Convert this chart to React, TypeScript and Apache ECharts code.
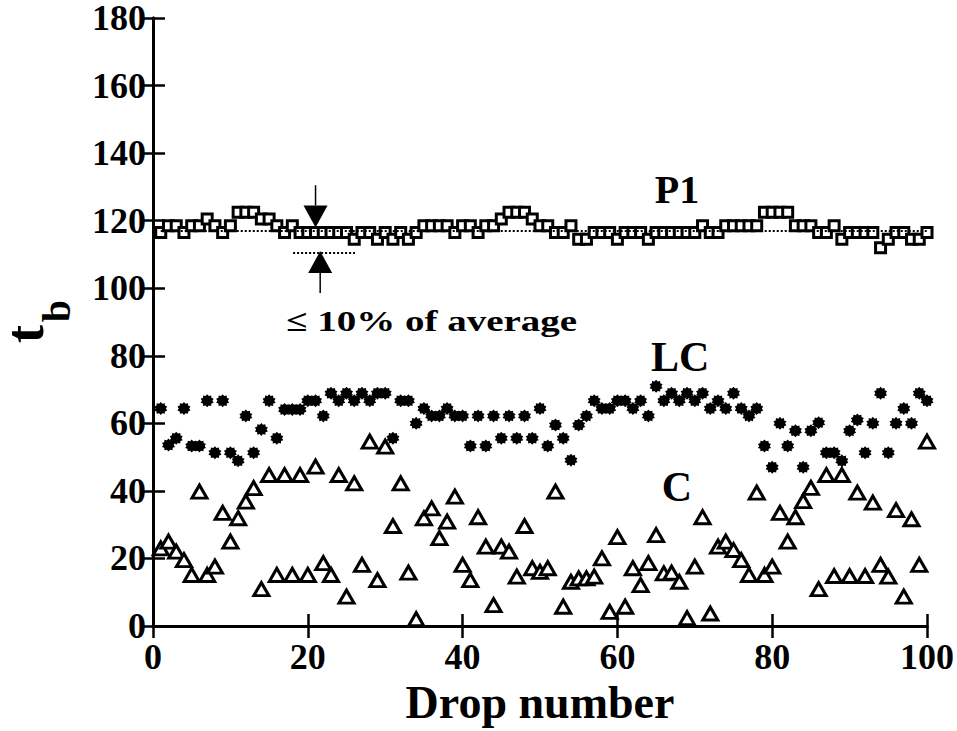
import React, { useEffect, useRef } from "react";
import * as echarts from "echarts";

const xTicks = [0, 20, 40, 60, 80, 100];
const yTicks = [0, 20, 40, 60, 80, 100, 120, 140, 160, 180];

const p1Values = [
  116.5, 118.5, 118.5, 116.5, 118.5, 118.5, 120.5, 118.5, 116.5, 118.5,
  122.5, 122.5, 122.5, 120.5, 120.5, 118.5, 116.5, 118.5, 116.5, 116.5,
  116.5, 116.5, 116.5, 116.5, 116.5, 114.5, 116.5, 116.5, 114.5, 116.5,
  114.5, 116.5, 114.5, 116.5, 118.5, 118.5, 118.5, 118.5, 116.5, 118.5,
  118.5, 116.5, 118.5, 118.5, 120.5, 122.5, 122.5, 122.5, 120.5, 118.5,
  118.5, 116.5, 116.5, 118.5, 114.5, 114.5, 116.5, 116.5, 116.5, 114.5,
  116.5, 116.5, 116.5, 114.5, 116.5, 116.5, 116.5, 116.5, 116.5, 116.5,
  118.5, 116.5, 116.5, 118.5, 118.5, 118.5, 118.5, 118.5, 122.5, 122.5,
  122.5, 122.5, 118.5, 118.5, 118.5, 116.5, 116.5, 118.5, 114.5, 116.5,
  116.5, 116.5, 116.5, 112, 114.5, 116.5, 116.5, 114.5, 114.5, 116.5,
];

const lcValues = [
  64.4, 53.6, 55.6, 64.4, 53.3, 53.3, 66.7, 51.3, 66.7, 51.3,
  48.9, 62.2, 51.3, 58.2, 66.7, 55.6, 64.1, 64.1, 64.1, 66.7,
  66.7, 62.2, 68.9, 66.7, 68.9, 66.7, 68.9, 66.7, 68.9, 68.9,
  55.6, 66.7, 66.7, 60, 64.4, 62.2, 62.2, 64.4, 62.2, 62.2,
  53.3, 62.2, 53.3, 62.2, 55.6, 62.2, 55.6, 62.2, 55.6, 64.4,
  53.3, 59.5, 55.6, 49.1, 59.5, 62.2, 66.7, 64.4, 64.4, 66.7,
  66.7, 64.4, 66.7, 62.2, 71, 66.7, 68.9, 66.7, 68.9, 66.7,
  68.9, 64.4, 66.7, 64.4, 68.9, 64.4, 62.2, 64.4, 53.3, 47,
  60, 53.3, 57.8, 47, 57.8, 60.2, 51.3, 51.3, 48.9, 57.8,
  61, 51.3, 60, 68.9, 51.3, 60, 64.4, 60, 68.9, 66.7,
];

const cValues = [
  23, 25, 22, 19.5, 15.1, 39.8, 15.1, 17.6, 33.5, 25,
  31.9, 36.8, 40.8, 10.9, 44.7, 15.1, 44.7, 15.1, 44.7, 15.1,
  47.2, 18.6, 15.1, 44.7, 8.7, 42.2, 18.1, 54.6, 13.6, 53.1,
  29.6, 42.2, 15.8, 2, 31.9, 34.8, 26, 30.9, 38.3, 18.1,
  13.6, 32.2, 23.5, 6.2, 23.5, 22, 14.6, 29.6, 17.1, 16,
  17.1, 39.8, 5.7, 13.1, 14.1, 14.1, 14.6, 20, 4.2, 26.3,
  5.7, 17.1, 12.1, 18.6, 26.9, 15.6, 15.8, 13.1, 2.3, 17.6,
  32.2, 3.7, 23.5, 25, 22.5, 19.5, 15.1, 39.5, 15.1, 17.6,
  33.5, 25, 32.2, 37, 40.9, 10.9, 44.7, 14.8, 44.7, 14.8,
  39.5, 14.8, 36.5, 18.1, 14.6, 34.3, 8.7, 31.6, 18.1, 54.6,
];

const averageP1 = 117;
const lowerBand = 110.5;

const FONT = "'Liberation Serif', 'Times New Roman', serif";

// star-shaped marker outline (gear/asterisk look)
function starPath(points: number, outer: number, inner: number) {
  const parts: string[] = [];
  for (let i = 0; i < points * 2; i++) {
    const r = i % 2 === 0 ? outer : inner;
    const a = (Math.PI * i) / points - Math.PI / 2;
    const x = 50 + r * Math.cos(a);
    const y = 50 + r * Math.sin(a);
    parts.push((i === 0 ? "M" : "L") + x.toFixed(2) + " " + y.toFixed(2));
  }
  return "path://" + parts.join(" ") + " Z";
}
const STAR = starPath(10, 50, 38);

export default function App() {
  const ref = useRef<HTMLDivElement>(null);
  useEffect(() => {
    if (!ref.current) return;
    const chart = echarts.init(ref.current, null, { renderer: "svg" });
    const toPts = (arr: number[]) => arr.map((v, i) => [i + 1, v]);
    const axisLabel = { fontFamily: FONT, fontWeight: "bold", fontSize: 36, lineHeight: 30, color: "#000" };
    const option: any = {
      animation: false,
      backgroundColor: "#fff",
      grid: { left: 153, right: 30, top: 18, bottom: 105, containLabel: false },
      xAxis: [
        {
          type: "value", min: xTicks[0], max: xTicks[xTicks.length - 1], interval: 20,
          position: "bottom",
          axisLine: { lineStyle: { color: "#000", width: 3 } },
          axisTick: { inside: true, length: 12, lineStyle: { color: "#000", width: 2.5 } },
          axisLabel: { ...axisLabel, margin: 16 },
          splitLine: { show: false },
          name: "Drop number", nameLocation: "middle", nameGap: 52,
          nameTextStyle: { fontFamily: FONT, fontWeight: "bold", fontSize: 46, color: "#000" },
        },
        {
          type: "value", min: 0, max: 100, interval: 20, position: "top",
          axisLine: { lineStyle: { color: "#000", width: 3 } },
          axisTick: { inside: true, length: 12, lineStyle: { color: "#000", width: 2.5 } },
          axisLabel: { show: false }, splitLine: { show: false },
        },
      ],
      yAxis: [
        {
          type: "value", min: yTicks[0], max: yTicks[yTicks.length - 1], interval: 20,
          position: "left",
          axisLine: { show: true, lineStyle: { color: "#000", width: 3 } },
          axisTick: { show: true, inside: true, length: 12, lineStyle: { color: "#000", width: 2.5 } },
          axisLabel: { ...axisLabel, margin: 7 },
          splitLine: { show: false },
        },
        {
          type: "value", min: 0, max: 180, interval: 20, position: "right",
          axisLine: { show: true, lineStyle: { color: "#000", width: 3 } },
          axisTick: { show: true, inside: true, length: 12, lineStyle: { color: "#000", width: 2.5 } },
          axisLabel: { show: false }, splitLine: { show: false },
        },
      ],
      series: [
        {
          name: "P1", type: "scatter", data: toPts(p1Values),
          symbol: "rect", symbolSize: 10,
          itemStyle: { color: "#fff", borderColor: "#000", borderWidth: 3, opacity: 1 },
          z: 3,
          markLine: {
            silent: true, symbol: "none", label: { show: false },
            lineStyle: { color: "#000", type: [2, 2], width: 2 },
            data: [
              [{ coord: [1, averageP1] }, { coord: [100, averageP1] }],
              [{ coord: [18.1, lowerBand] }, { coord: [26.1, lowerBand] }],
            ],
          },
        },
        {
          name: "LC", type: "scatter", data: toPts(lcValues),
          symbol: STAR, symbolSize: 13,
          itemStyle: { color: "#000", opacity: 1 },
          z: 3,
        },
        {
          name: "C", type: "scatter", data: toPts(cValues),
          symbol: "triangle", symbolSize: [15, 13],
          itemStyle: { color: "#fff", borderColor: "#000", borderWidth: 3, opacity: 1 },
          z: 4,
        },
      ],
    };
    chart.setOption(option);

    const px = (x: number, y: number) =>
      chart.convertToPixel({ xAxisIndex: 0, yAxisIndex: 0 }, [x, y]) as number[];

    const topTip = px(21, 118);
    const topStart = px(21, 130.5);
    const botTip = px(21.6, 111);
    const botStart = px(21.6, 98.6);
    const head = 22;
    const hw = 12;
    const labelStyle = { fontFamily: FONT, fontWeight: "bold", fill: "#000", align: "center", verticalAlign: "middle" };
    const p1Lbl = px(67.7, 129.2);
    const lcLbl = px(68.1, 79.6);
    const cLbl = px(67.7, 41.1);
    const annot = px(36, 90.3);

    chart.setOption({
      graphic: [
        { type: "line", shape: { x1: topStart[0], y1: topStart[1], x2: topTip[0], y2: topTip[1] - head }, style: { stroke: "#000", lineWidth: 1.5 } },
        { type: "polygon", shape: { points: [[topTip[0], topTip[1]], [topTip[0] - hw, topTip[1] - head], [topTip[0] + hw, topTip[1] - head]] }, style: { fill: "#000" } },
        { type: "line", shape: { x1: botStart[0], y1: botStart[1], x2: botTip[0], y2: botTip[1] + head }, style: { stroke: "#000", lineWidth: 1.5 } },
        { type: "polygon", shape: { points: [[botTip[0], botTip[1]], [botTip[0] - hw, botTip[1] + head], [botTip[0] + hw, botTip[1] + head]] }, style: { fill: "#000" } },
        { type: "text", x: p1Lbl[0], y: p1Lbl[1], style: { ...labelStyle, text: "P1", fontSize: 40 } },
        { type: "text", x: lcLbl[0], y: lcLbl[1], style: { ...labelStyle, text: "LC", fontSize: 42 } },
        { type: "text", x: cLbl[0], y: cLbl[1], style: { ...labelStyle, text: "C", fontSize: 42 } },
        { type: "text", x: annot[0], y: annot[1], scaleX: 1.3, style: { ...labelStyle, text: "≤ 10% of average", fontSize: 30 } },
        { type: "text", x: 25, y: 334, rotation: Math.PI / 2, style: { ...labelStyle, text: "t", fontSize: 54, lineHeight: 40 } },
        { type: "text", x: 56, y: 311, rotation: Math.PI / 2, style: { ...labelStyle, text: "b", fontSize: 40, lineHeight: 32 } },
      ],
    });

    return () => chart.dispose();
  }, []);
  return <div ref={ref} style={{ position: "fixed", left: 0, top: 0, width: 957, height: 731 }} />;
}
